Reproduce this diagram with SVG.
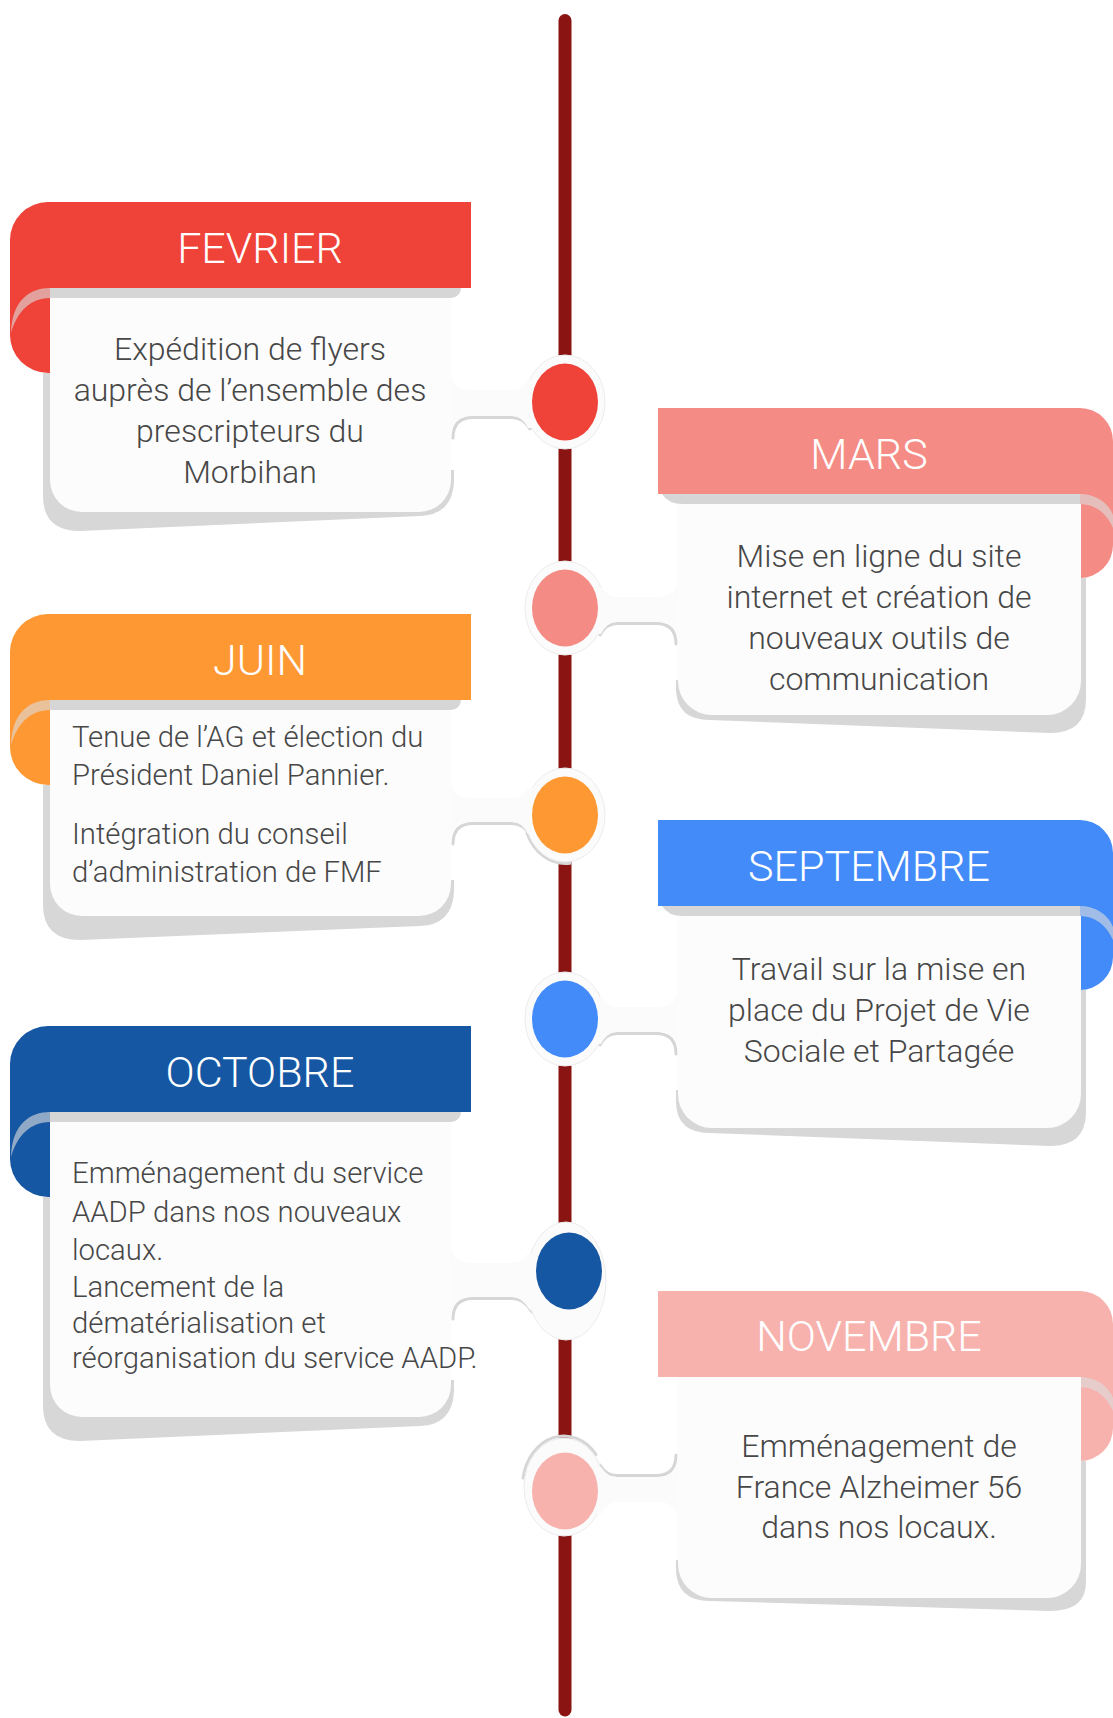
<svg xmlns="http://www.w3.org/2000/svg" width="1113" height="1718" viewBox="0 0 1113 1718">
<style>
.hd{font-family:Roboto,'Liberation Sans',sans-serif;font-weight:300;font-size:43px;fill:#ffffff;text-anchor:middle}
.tc{font-family:Roboto,'Liberation Sans',sans-serif;font-weight:300;font-size:32px;fill:#474747;text-anchor:middle}
.tl{font-family:Roboto,'Liberation Sans',sans-serif;font-weight:300;font-size:29.3px;fill:#474747;text-anchor:start}
.body{fill:#FCFCFC}
.shd{fill:#D7D7D7}
.strip{fill:#D6D6D6}
.curl{fill:#DCDCDC;fill-opacity:0.62}
.halo{fill:#FBFBFB;stroke:#ECECEC;stroke-width:1}
.neck{fill:#FBFBFB}
.nsh{fill:none;stroke:#D6D6D6;stroke-width:3;stroke-linecap:round}
</style>
<rect x="0" y="0" width="1113" height="1718" fill="#ffffff"/>

<g id="timeline">
<line x1="565" y1="20.5" x2="565" y2="1710" stroke="#8A1411" stroke-width="13" stroke-linecap="round"/>
</g>

<g id="connectors">
<!-- FEVRIER -->
<path class="nsh" d="M453,438 Q453,417.5 473,417.5 H512 Q523,417.5 530,429"/>
<ellipse class="halo" cx="565" cy="402" rx="40" ry="47"/>
<path class="neck" d="M451,370 Q451,390 471,390 H512 Q522,390 528,380 L565,380 L565,428 L528,428 Q522,416 512,416 H471 Q451,416 451,436 Z"/>
<ellipse cx="565" cy="402" rx="33" ry="38.5" fill="#EF4238"/>
<!-- MARS -->
<path class="nsh" d="M676,644 Q676,623.5 656,623.5 H617 Q606,623.5 600,635"/>
<ellipse class="halo" cx="565" cy="608" rx="40" ry="47"/>
<path class="neck" d="M678,577 Q678,597 658,597 H617 Q607,597 601,587 L565,587 L565,634 L601,634 Q607,622 617,622 H658 Q678,622 678,642 Z"/>
<ellipse cx="565" cy="608" rx="33" ry="38.5" fill="#F48B85"/>
<!-- JUIN -->
<path class="nsh" d="M453,844 Q453,823.5 473,823.5 H512 Q523,823.5 530,835"/>
<path class="nsh" d="M527,833 A41.5,48.5 0 0 0 570,863.3"/>
<ellipse class="halo" cx="565" cy="815" rx="40" ry="47"/>
<path class="neck" d="M451,778 Q451,798 471,798 H512 Q522,798 528,788 L565,788 L565,834 L528,834 Q522,822 512,822 H471 Q451,822 451,842 Z"/>
<ellipse cx="565" cy="815" rx="33" ry="38.5" fill="#FE9833"/>
<!-- SEPTEMBRE -->
<path class="nsh" d="M676,1054 Q676,1033.5 656,1033.5 H617 Q606,1033.5 600,1045"/>
<ellipse class="halo" cx="565" cy="1019" rx="40" ry="47"/>
<path class="neck" d="M678,987 Q678,1007 658,1007 H617 Q607,1007 601,997 L565,997 L565,1044 L601,1044 Q607,1032 617,1032 H658 Q678,1032 678,1052 Z"/>
<ellipse cx="565" cy="1019" rx="33" ry="38.5" fill="#428BF9"/>
<!-- OCTOBRE -->
<path class="nsh" d="M453,1319 Q453,1298.5 473,1298.5 H512 Q524,1298.5 532,1312"/>
<ellipse class="halo" cx="566" cy="1281" rx="40" ry="59"/>
<path class="neck" d="M451,1243 Q451,1263 471,1263 H512 Q522,1263 528,1253 L566,1253 L566,1310 L530,1310 Q522,1297 512,1297 H471 Q451,1297 451,1317 Z"/>
<ellipse cx="569" cy="1271" rx="33" ry="38.5" fill="#1657A3"/>
<!-- NOVEMBRE -->
<path class="nsh" d="M676,1455 Q676,1475.5 656,1475.5 H617 Q606,1475.5 600,1465"/>
<path class="nsh" d="M523,1478 A41.5,50.5 0 0 1 596,1454.5"/>
<ellipse class="halo" cx="564" cy="1487" rx="40" ry="49"/>
<path class="neck" d="M678,1457 Q678,1477 658,1477 H617 Q607,1477 601,1467 L564,1467 L564,1514 L601,1514 Q607,1502 617,1502 H658 Q678,1502 678,1522 Z"/>
<ellipse cx="565" cy="1491" rx="33" ry="38.5" fill="#F7B2AE"/>
</g>

<g id="fevrier">
<path d="M48,202 H471 V288 H50 V373 H48 A38,38 0 0 1 10,335 V240 A38,38 0 0 1 48,202 Z" fill="#EF4238"/>
<path class="strip" d="M50,288 H461 A10,10 0 0 1 451,298 H50 Z"/>
<path class="curl" d="M50,288 C30,288 12,300 11,333 C17,312 30,298 50,298 Z"/>
<path class="shd" d="M50,373 H43 V496 Q43,531 80,531 L420,516 Q452,515 454,482 V470 H450 Z"/>
<path class="body" d="M50,298 H451 V480 A32,32 0 0 1 419,512 H82 A32,32 0 0 1 50,480 Z"/>
<text class="hd" x="260" y="263">FEVRIER</text>
<text class="tc" x="250" y="360">Expédition de flyers</text>
<text class="tc" x="250" y="401">auprès de l’ensemble des</text>
<text class="tc" x="250" y="442">prescripteurs du</text>
<text class="tc" x="250" y="483">Morbihan</text>
</g>

<g id="mars">
<path d="M658,408 H1080 A33,33 0 0 1 1113,441 V545 A33,33 0 0 1 1080,578 V494 H658 Z" fill="#F48B85"/>
<path class="strip" d="M1080,494 H662 Q668,504 683,504 H1080 Z"/>
<path class="curl" d="M1080,494 C1095,494 1108,502 1113,515 V528 C1106,512 1094,504 1080,504 Z"/>
<path class="shd" d="M1080,578 H1086 V699 Q1086,733 1050,733 L710,720 Q677,720 676,690 V680 H680 Z"/>
<path class="body" d="M678,504 H1081 V681 A34,34 0 0 1 1047,715 H712 A34,34 0 0 1 678,681 Z"/>
<text class="hd" x="869" y="469">MARS</text>
<text class="tc" x="879" y="567">Mise en ligne du site</text>
<text class="tc" x="879" y="608">internet et création de</text>
<text class="tc" x="879" y="649">nouveaux outils de</text>
<text class="tc" x="879" y="690">communication</text>
</g>

<g id="juin">
<path d="M48,614 H471 V700 H50 V785 H48 A38,38 0 0 1 10,747 V652 A38,38 0 0 1 48,614 Z" fill="#FE9833"/>
<path class="strip" d="M50,700 H461 A10,10 0 0 1 451,710 H50 Z"/>
<path class="curl" d="M50,700 C30,700 12,712 11,745 C17,724 30,710 50,710 Z"/>
<path class="shd" d="M50,785 H43 V905 Q43,940 80,940 L420,926 Q452,925 454,892 V880 H450 Z"/>
<path class="body" d="M50,710 H451 V884 A32,32 0 0 1 419,916 H82 A32,32 0 0 1 50,884 Z"/>
<text class="hd" x="260" y="675">JUIN</text>
<text class="tl" x="72" y="747">Tenue de l’AG et élection du</text>
<text class="tl" x="72" y="785">Président Daniel Pannier.</text>
<text class="tl" x="72" y="844">Intégration du conseil</text>
<text class="tl" x="72" y="882">d’administration de FMF</text>
</g>

<g id="septembre">
<path d="M658,820 H1080 A33,33 0 0 1 1113,853 V957 A33,33 0 0 1 1080,990 V906 H658 Z" fill="#428BF9"/>
<path class="strip" d="M1080,906 H662 Q668,916 683,916 H1080 Z"/>
<path class="curl" d="M1080,906 C1095,906 1108,914 1113,927 V940 C1106,924 1094,916 1080,916 Z"/>
<path class="shd" d="M1080,990 H1086 V1112 Q1086,1146 1050,1146 L710,1133 Q677,1133 676,1103 V1090 H680 Z"/>
<path class="body" d="M678,916 H1081 V1094 A34,34 0 0 1 1047,1128 H712 A34,34 0 0 1 678,1094 Z"/>
<text class="hd" x="869" y="881">SEPTEMBRE</text>
<text class="tc" x="879" y="980">Travail sur la mise en</text>
<text class="tc" x="879" y="1021">place du Projet de Vie</text>
<text class="tc" x="879" y="1062">Sociale et Partagée</text>
</g>

<g id="octobre">
<path d="M48,1026 H471 V1112 H50 V1197 H48 A38,38 0 0 1 10,1159 V1064 A38,38 0 0 1 48,1026 Z" fill="#1657A3"/>
<path class="strip" d="M50,1112 H461 A10,10 0 0 1 451,1122 H50 Z"/>
<path class="curl" d="M50,1112 C30,1112 12,1124 11,1157 C17,1136 30,1122 50,1122 Z"/>
<path class="shd" d="M50,1197 H43 V1406 Q43,1441 80,1441 L420,1426 Q452,1425 454,1392 V1380 H450 Z"/>
<path class="body" d="M50,1122 H451 V1385 A32,32 0 0 1 419,1417 H82 A32,32 0 0 1 50,1385 Z"/>
<text class="hd" x="260" y="1087">OCTOBRE</text>
<text class="tl" x="72" y="1183">Emménagement du service</text>
<text class="tl" x="72" y="1222">AADP dans nos nouveaux</text>
<text class="tl" x="72" y="1260">locaux.</text>
<text class="tl" x="72" y="1297">Lancement de la</text>
<text class="tl" x="72" y="1333">dématérialisation et</text>
<text class="tl" x="72" y="1368">réorganisation du service AADP.</text>
</g>

<g id="novembre">
<path d="M658,1291 H1080 A33,33 0 0 1 1113,1324 V1428 A33,33 0 0 1 1080,1461 V1377 H658 Z" fill="#F7B2AE"/>
<path class="curl" d="M1080,1377 C1095,1377 1108,1385 1113,1398 V1411 C1106,1395 1094,1387 1080,1387 Z"/>
<path class="shd" d="M1080,1461 H1086 V1582 Q1086,1611 1050,1611 L710,1601 Q677,1601 676,1570 V1560 H680 Z"/>
<path class="body" d="M678,1377 H1081 V1564 A34,34 0 0 1 1047,1598 H712 A34,34 0 0 1 678,1564 Z"/>
<text class="hd" x="869" y="1351">NOVEMBRE</text>
<text class="tc" x="879" y="1457">Emménagement de</text>
<text class="tc" x="879" y="1498">France Alzheimer 56</text>
<text class="tc" x="879" y="1538">dans nos locaux.</text>
</g>
</svg>
